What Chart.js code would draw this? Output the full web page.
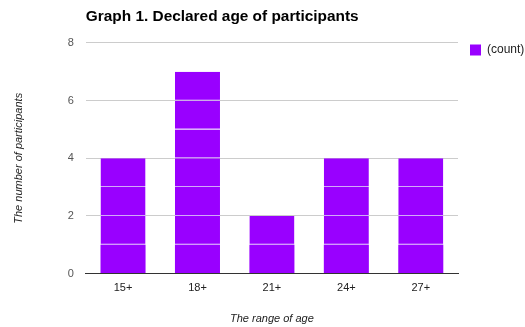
<!DOCTYPE html>
<html>
<head>
    <title>Graph 1. Declared age of participants</title>
    <script src="https://cdn.jsdelivr.net/npm/chart.js@4.4.0/dist/chart.umd.min.js"></script>
    <style>
        body { margin: 0; padding: 0; background: #fff; overflow: hidden; }
        #chart { display: block; }
    </style>
</head>
<body>
    <canvas id="chart" width="525" height="327"></canvas>
    <script>
        // data
        const ageRanges = ['15+', '18+', '21+', '24+', '27+'];
        const counts = [4, 7, 2, 4, 4];
        const yTicks = [0, 2, 4, 6, 8];

        const barColor = '#9900ff';
        const dividerColor = '#d2a8f8';

        // each participant is one block of the stack, like the sheet's histogram
        const maxCount = Math.max(...counts);
        const datasets = [];
        for (let k = 0; k < maxCount; k++) {
            datasets.push({
                label: '(count)',
                data: counts.map(c => (c > k ? 1 : 0)),
                backgroundColor: barColor,
                borderColor: dividerColor,
                borderWidth: { top: 0, left: 0, right: 0, bottom: k === 0 ? 0 : 1 },
                borderSkipped: false,
                barPercentage: 0.605,
                categoryPercentage: 1
            });
        }

        new Chart(document.getElementById('chart'), {
            type: 'bar',
            data: { labels: ageRanges, datasets: datasets },
            options: {
                responsive: false,
                animation: false,
                layout: { padding: { left: 0, right: 0, top: 0, bottom: 1 } },
                plugins: {
                    tooltip: { enabled: false },
                    title: {
                        display: true,
                        text: 'Graph 1. Declared age of participants',
                        align: 'start',
                        fullSize: false,
                        color: '#000',
                        font: { family: '"Liberation Sans", Arial, sans-serif', size: 15.4, weight: 'bold' },
                        padding: { top: 8, bottom: 16.5 }
                    },
                    legend: {
                        position: 'right',
                        align: 'start',
                        fullSize: true,
                        maxWidth: 67,
                        title: { display: true, text: '', font: { size: 11 }, padding: { top: 0, bottom: 18.8 } },
                        labels: {
                            boxWidth: 11,
                            boxHeight: 11,
                            padding: 12,
                            color: '#222',
                            font: { family: '"Liberation Sans", Arial, sans-serif', size: 12 },
                            filter: item => item.datasetIndex === 0
                        }
                    }
                },
                scales: {
                    x: {
                        stacked: true,
                        grid: { display: false, drawTicks: false },
                        border: { display: true, color: '#333', width: 1 },
                        ticks: {
                            color: '#222',
                            padding: 8,
                            font: { family: '"Liberation Sans", Arial, sans-serif', size: 11 }
                        },
                        title: {
                            display: true,
                            text: 'The range of age',
                            color: '#222',
                            font: { family: '"Liberation Sans", Arial, sans-serif', size: 11, style: 'italic' },
                            padding: { top: 10, bottom: 0 }
                        }
                    },
                    y: {
                        stacked: true,
                        min: yTicks[0],
                        max: yTicks[yTicks.length - 1],
                        afterBuildTicks: scale => { scale.ticks = yTicks.map(v => ({ value: v })); },
                        grid: { color: '#cccccc', drawTicks: false },
                        border: { display: false },
                        ticks: {
                            color: '#555',
                            padding: 12,
                            font: { family: '"Liberation Sans", Arial, sans-serif', size: 11 }
                        },
                        title: {
                            display: true,
                            text: 'The number of participants',
                            color: '#222',
                            font: { family: '"Liberation Sans", Arial, sans-serif', size: 11, style: 'italic' },
                            padding: { top: 12, bottom: 30.5 }
                        }
                    }
                }
            }
        });
    </script>
</body>
</html>
